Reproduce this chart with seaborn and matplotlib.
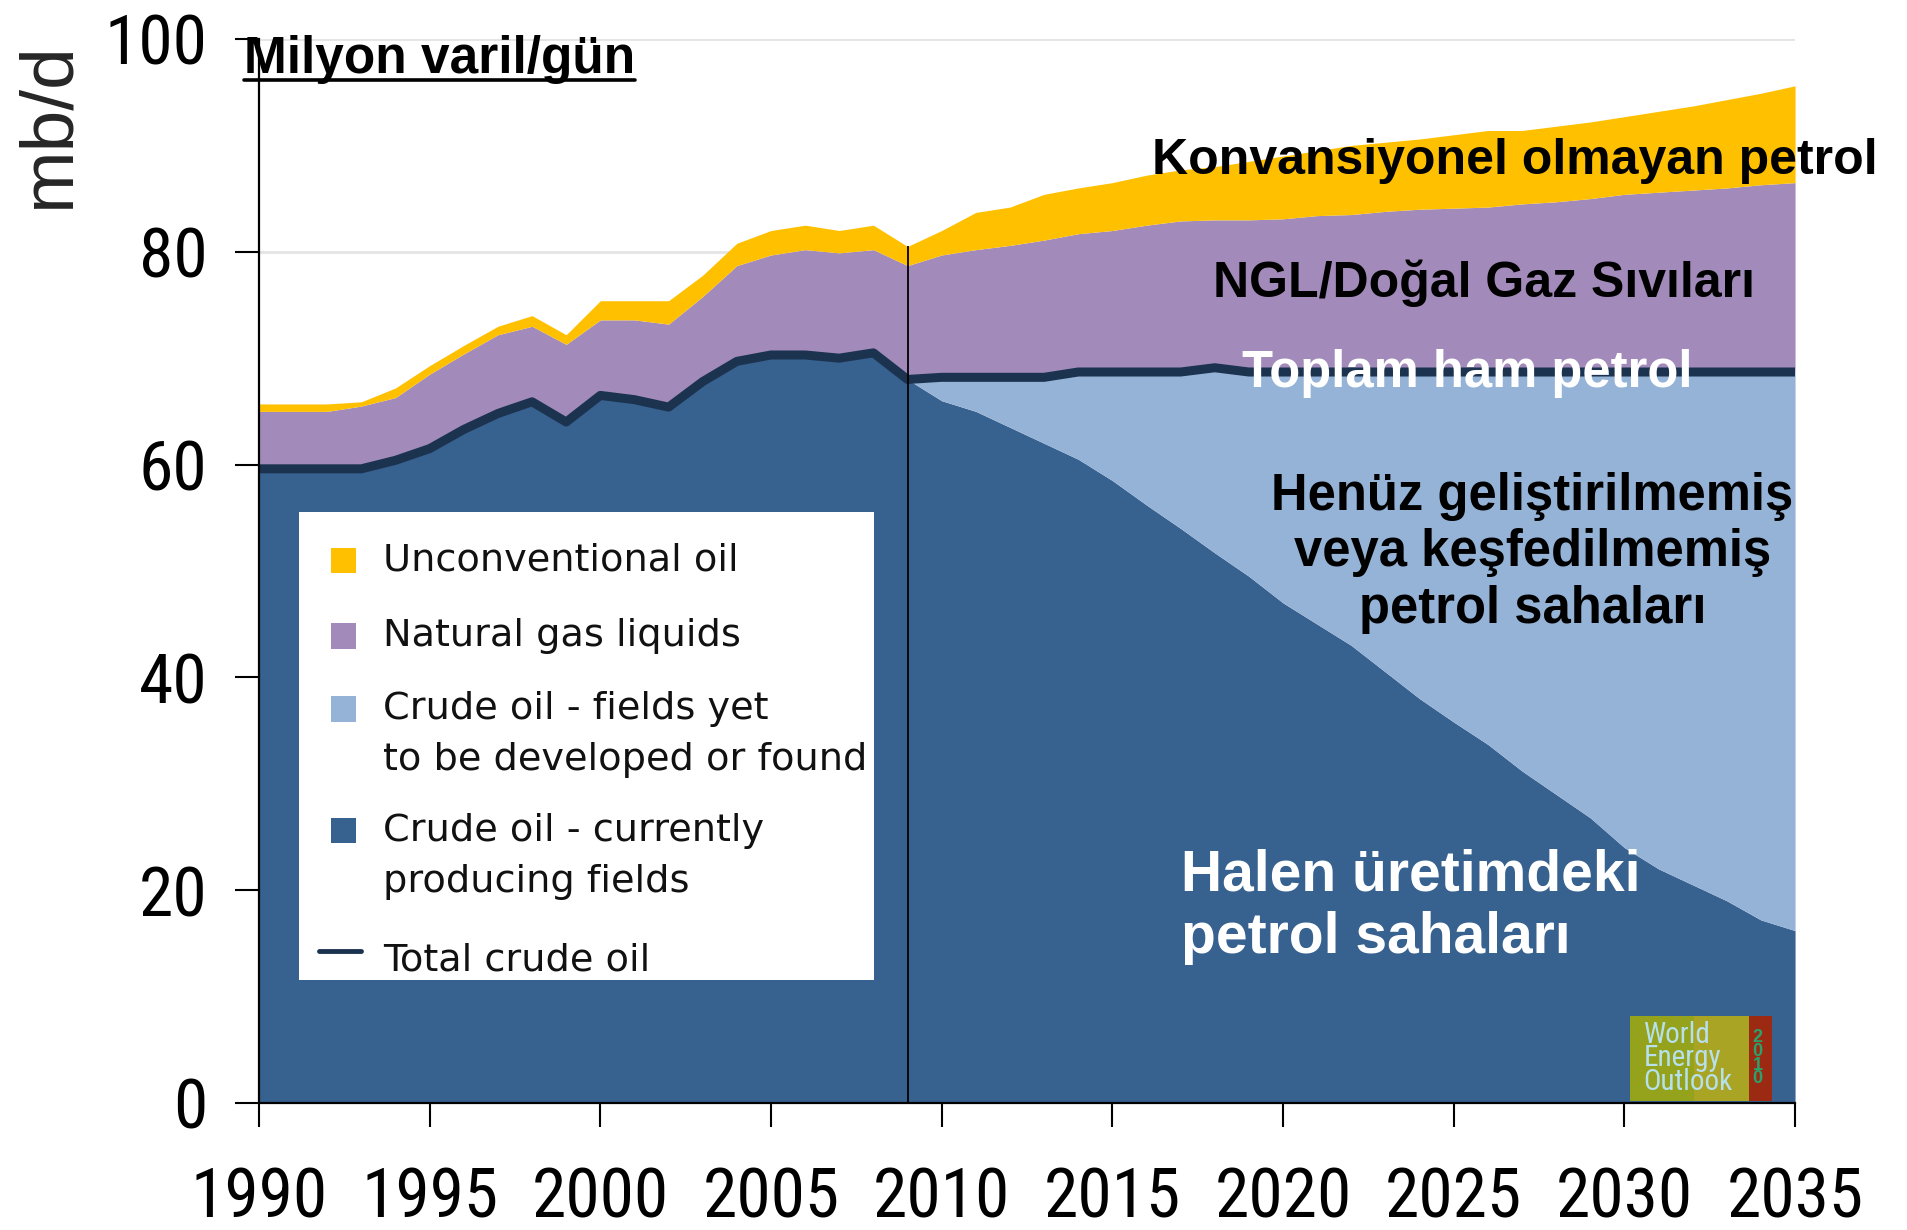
import numpy as np
import pandas as pd
import seaborn as sns
import matplotlib.pyplot as plt
from matplotlib.patches import Rectangle
from matplotlib.lines import Line2D

#--------------------------------------------------------------------------
# Veriler (mb/d) - okunan değerler
years = list(range(1990, 2036))

total_crude = [59.6, 59.6, 59.6, 59.6, 60.4, 61.5, 63.3, 64.8, 65.9, 64.0,
               66.5, 66.1, 65.4, 67.8, 69.7, 70.3, 70.3, 70.0, 70.5, 68.0,
               68.2, 68.2, 68.2, 68.2, 68.7, 68.7, 68.7, 68.7, 69.1, 68.7,
               68.7, 68.7, 68.7, 68.7, 68.7, 68.7, 68.7, 68.7, 68.7, 68.7,
               68.7, 68.7, 68.7, 68.7, 68.7, 68.7]

producing = [59.6, 59.6, 59.6, 59.6, 60.4, 61.5, 63.3, 64.8, 65.9, 64.0,
             66.5, 66.1, 65.4, 67.8, 69.7, 70.3, 70.3, 70.0, 70.5, 68.0,
             66.0, 65.0, 63.5, 62.0, 60.5, 58.5, 56.2, 54.0, 51.7, 49.5,
             47.0, 45.0, 43.0, 40.5, 38.0, 35.8, 33.7, 31.2, 29.0, 26.8,
             24.0, 22.0, 20.5, 19.0, 17.2, 16.2]

ngl_top = [65.0, 65.0, 65.0, 65.5, 66.3, 68.5, 70.4, 72.2, 73.0, 71.3,
           73.6, 73.6, 73.2, 75.8, 78.7, 79.7, 80.2, 79.9, 80.2, 78.7,
           79.7, 80.2, 80.6, 81.1, 81.7, 82.0, 82.5, 82.9, 83.0, 83.0,
           83.1, 83.4, 83.5, 83.8, 84.0, 84.1, 84.2, 84.5, 84.7, 85.0,
           85.4, 85.6, 85.8, 86.0, 86.3, 86.5]

liquids_top = [65.7, 65.7, 65.7, 65.9, 67.2, 69.3, 71.2, 73.0, 74.0, 72.2,
               75.4, 75.4, 75.4, 77.8, 80.8, 82.0, 82.5, 82.0, 82.5, 80.5,
               82.0, 83.7, 84.2, 85.4, 86.0, 86.5, 87.2, 87.7, 88.0, 88.5,
               89.0, 89.5, 90.0, 90.3, 90.6, 91.0, 91.4, 91.4, 91.8, 92.2,
               92.7, 93.2, 93.7, 94.3, 94.9, 95.6]

legend_labels = [['Unconventional oil'], ['Natural gas liquids'],
                 ['Crude oil - fields yet', 'to be developed or found'],
                 ['Crude oil - currently', 'producing fields'], ['Total crude oil']]
xticks = list(range(1990, 2036, 5))
yticks = [0, 20, 40, 60, 80, 100]

C_PROD = '#37618f'
C_YET = '#95b3d7'
C_NGL = '#a28bba'
C_UNC = '#ffc000'
C_LINE = '#1c3350'
#--------------------------------------------------------------------------
sns.set_theme(style='white')
plt.rcParams['font.family'] = ['Liberation Sans', 'DejaVu Sans']
COND = ['Roboto Condensed', 'Roboto', 'Liberation Sans']

df = pd.DataFrame({'year': years, 'total': total_crude})

fig = plt.figure(figsize=(19.07, 12.30), dpi=100)
ax = fig.add_axes([0.1358, 0.1033, 0.8055, 0.865])

ax.fill_between(years, 0, producing, color=C_PROD, lw=0, zorder=2)
ax.fill_between(years, producing, total_crude, color=C_YET, lw=0, zorder=2)
ax.fill_between(years, total_crude, ngl_top, color=C_NGL, lw=0, zorder=2)
ax.fill_between(years, ngl_top, liquids_top, color=C_UNC, lw=0, zorder=2)
sns.lineplot(data=df, x='year', y='total', color=C_LINE, lw=6.5, ax=ax, zorder=3)

# 2009 ayırıcı çizgi
ax.vlines(2009, 0, liquids_top[years.index(2009)], color='black', lw=1.3, zorder=4)

ax.set_xlim(1990, 2035)
ax.set_ylim(0, 100)
ax.set_xticks(xticks)
ax.set_yticks(yticks)
ax.set_xlabel('')
ax.set_ylabel('')
ax.yaxis.grid(True, color='#e4e4e4', lw=2)
ax.set_axisbelow(True)
sns.despine(ax=ax)
for s in ['left', 'bottom']:
    ax.spines[s].set_color('black')
    ax.spines[s].set_linewidth(1.6)
ax.spines['left'].set_zorder(5)
ax.tick_params(axis='both', direction='out', length=17, width=1.5, color='black',
               left=True, bottom=True)
ax.tick_params(axis='x', labelsize=50, pad=28)
ax.tick_params(axis='y', labelsize=50, pad=20)
for lab in ax.get_xticklabels() + ax.get_yticklabels():
    lab.set_fontfamily(COND)
    lab.set_fontstretch('condensed')
    lab.set_fontweight('normal')
    lab.set_color('black')

#--------------------------------------------------------------------------
# Lejant (elle çizilmiş kutu)
ax.add_patch(Rectangle((0.0261, 0.1154), 0.3745, 0.44, transform=ax.transAxes,
                       facecolor='white', edgecolor='none', zorder=6))
leg_colors = [C_UNC, C_NGL, C_YET, C_PROD]
leg_rows = [0.5097, 0.4389, 0.3703, 0.2560]
for col, yc in zip(leg_colors, leg_rows):
    ax.add_patch(Rectangle((0.0467, yc - 0.012), 0.0166, 0.024, transform=ax.transAxes,
                           facecolor=col, edgecolor='none', zorder=7))
ax.add_line(Line2D([0.0388, 0.0665], [0.1428, 0.1428], transform=ax.transAxes,
                   color=C_LINE, lw=3.5, zorder=7))
leg_y = [[0.5097], [0.4389], [0.3703, 0.3223], [0.2560, 0.2080], [0.1337]]
for lines, ys in zip(legend_labels, leg_y):
    for txt, yy in zip(lines, ys):
        ax.text(0.0808, yy, txt, transform=ax.transAxes, fontsize=27.5,
                family='DejaVu Sans', ha='left', va='center', color='#111111', zorder=8)

#--------------------------------------------------------------------------
# Türkçe açıklamalar
bold = dict(fontweight='bold', zorder=7)
ax.text(2026.8, 88.5, 'Konvansiyonel olmayan petrol', fontsize=36, ha='center',
        va='center', color='black', clip_on=False, **bold)
ax.text(2025.9, 77.0, 'NGL/Doğal Gaz Sıvıları', fontsize=36, ha='center',
        va='center', color='black', **bold)
ax.text(2025.4, 68.6, 'Toplam ham petrol', fontsize=36.5, ha='center',
        va='center', color='white', **bold)
ax.text(2027.3, 51.7, 'Henüz geliştirilmemiş\nveya keşfedilmemiş\npetrol sahaları',
        fontsize=36.5, ha='center', va='center', color='black', linespacing=1.2,
        clip_on=False, **bold)
ax.text(2017.0, 18.4, 'Halen üretimdeki\npetrol sahaları', fontsize=41, ha='left',
        va='center', color='white', linespacing=1.2, **bold)

t = ax.text(1989.55, 96.8, 'Milyon varil/gün', fontsize=37, ha='left', va='baseline',
            color='black', clip_on=False, **bold)
fig.text(0.0255, 0.899, 'mb/d', rotation=90, fontsize=54, ha='center', va='center')

# alt çizgi
fig.canvas.draw()
bb = t.get_window_extent()
base = ax.transData.transform((1989.55, 96.8))[1] - 7
W, H = fig.bbox.width, fig.bbox.height
fig.add_artist(Line2D([bb.x0 / W, bb.x1 / W], [base / H, base / H],
                      transform=fig.transFigure, color='black', lw=2.6))

#--------------------------------------------------------------------------
# WEO 2010 logosu
lax = ax.inset_axes([2030.15, 0.2, 4.17, 8.0], transform=ax.transData)
lax.set_xlim(0, 1)
lax.set_ylim(0, 1)
lax.set_xticks([])
lax.set_yticks([])
for s in lax.spines.values():
    s.set_visible(False)
lax.set_facecolor('#94a21c')
lax.add_patch(Rectangle((0.84, 0), 0.16, 1, color='#9c2a12', lw=0))
lax.add_patch(Rectangle((0.45, 0), 0.39, 1, color='#aaa424', lw=0))
lax.text(0.1, 0.5, 'World\nEnergy\nOutlook', color='#b6e0ec', fontsize=21,
         ha='left', va='center', linespacing=0.8, family=COND)
lax.text(0.9, 0.5, '2\n0\n1\n0', color='#2aa36b', fontsize=13, fontweight='bold',
         ha='center', va='center', linespacing=0.75)

fig.savefig('out.png', dpi=100)
